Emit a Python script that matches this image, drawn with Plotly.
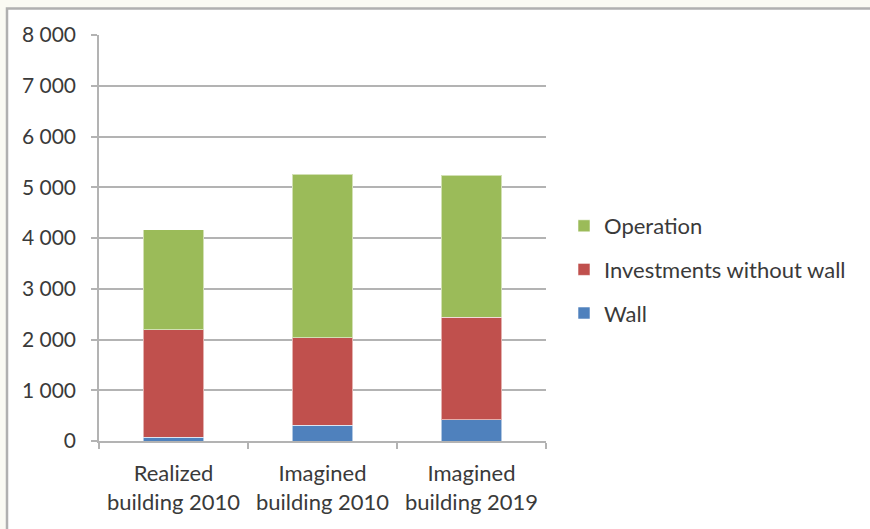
import plotly.graph_objects as go

categories = ["Realized<br>building 2010", "Imagined<br>building 2010", "Imagined<br>building 2019"]
wall = [75, 315, 420]
investments = [2115, 1720, 2020]
operation = [1970, 3225, 2800]
tick_vals = [0, 1000, 2000, 3000, 4000, 5000, 6000, 7000, 8000]
tick_text = ["0", "1 000", "2 000", "3 000", "4 000", "5 000", "6 000", "7 000", "8 000"]

FONT = "Lato"
TXT = "#3a3a3a"
GRID = "#b3b3b3"

fig = go.Figure()
edge = dict(color="rgba(255,255,255,0.55)", width=1)
fig.add_trace(go.Bar(x=categories, y=wall, name="Wall", marker=dict(color="#4f81bd", line=edge),
                     legendgroup="c", legendrank=3))
fig.add_trace(go.Bar(x=categories, y=investments, name="Investments without wall",
                     marker=dict(color="#c0504d", line=edge), legendgroup="b", legendrank=2))
fig.add_trace(go.Bar(x=categories, y=operation, name="Operation", marker=dict(color="#9bbb59", line=edge),
                     legendgroup="a", legendrank=1))

W, H = 870, 529
L, R, T, B = 99, 546, 35, 441
pw, ph = R - L, B - T

def px_x(p):
    return (p - L) / pw

def px_y(p):
    return (B - p) / ph

fig.add_shape(type="rect", xref="paper", yref="paper", layer="below",
              x0=px_x(7), x1=px_x(880), y0=px_y(545), y1=px_y(8.5),
              fillcolor="white", line=dict(color="#b0b0b0", width=2.5))

fig.update_layout(
    width=W, height=H,
    margin=dict(l=L, r=W - R, t=T, b=H - B, autoexpand=False),
    barmode="stack",
    bargap=0.595,
    paper_bgcolor="#fafaf3",
    plot_bgcolor="rgba(0,0,0,0)",
    font=dict(family=FONT, color=TXT, size=21),
    showlegend=True,
    legend=dict(
        traceorder="grouped",
        tracegroupgap=12,
        x=px_x(564), xanchor="left",
        y=px_y(205), yanchor="top",
        font=dict(size=22, family=FONT, color=TXT),
        itemwidth=30,
        bgcolor="rgba(0,0,0,0)",
    ),
    yaxis=dict(
        range=[0, 8000],
        tickvals=tick_vals, ticktext=tick_text,
        showgrid=True, gridcolor=GRID, gridwidth=1.5,
        showline=True, linecolor=GRID, linewidth=1.5,
        ticks="outside", ticklen=6, tickcolor=GRID, tickwidth=1.5,
        ticklabelstandoff=11,
        zeroline=False,
        tickfont=dict(size=21, family=FONT, color=TXT),
        fixedrange=True,
    ),
    xaxis=dict(
        showline=True, linecolor=GRID, linewidth=1.5,
        ticks="outside", ticklen=6, tickcolor=GRID, tickwidth=1.5,
        tickson="boundaries",
        showgrid=False,
        mirror=False,
        tickfont=dict(size=22, family=FONT, color=TXT),
        ticklabelstandoff=12,
    ),
)

fig.write_html("out.html")
